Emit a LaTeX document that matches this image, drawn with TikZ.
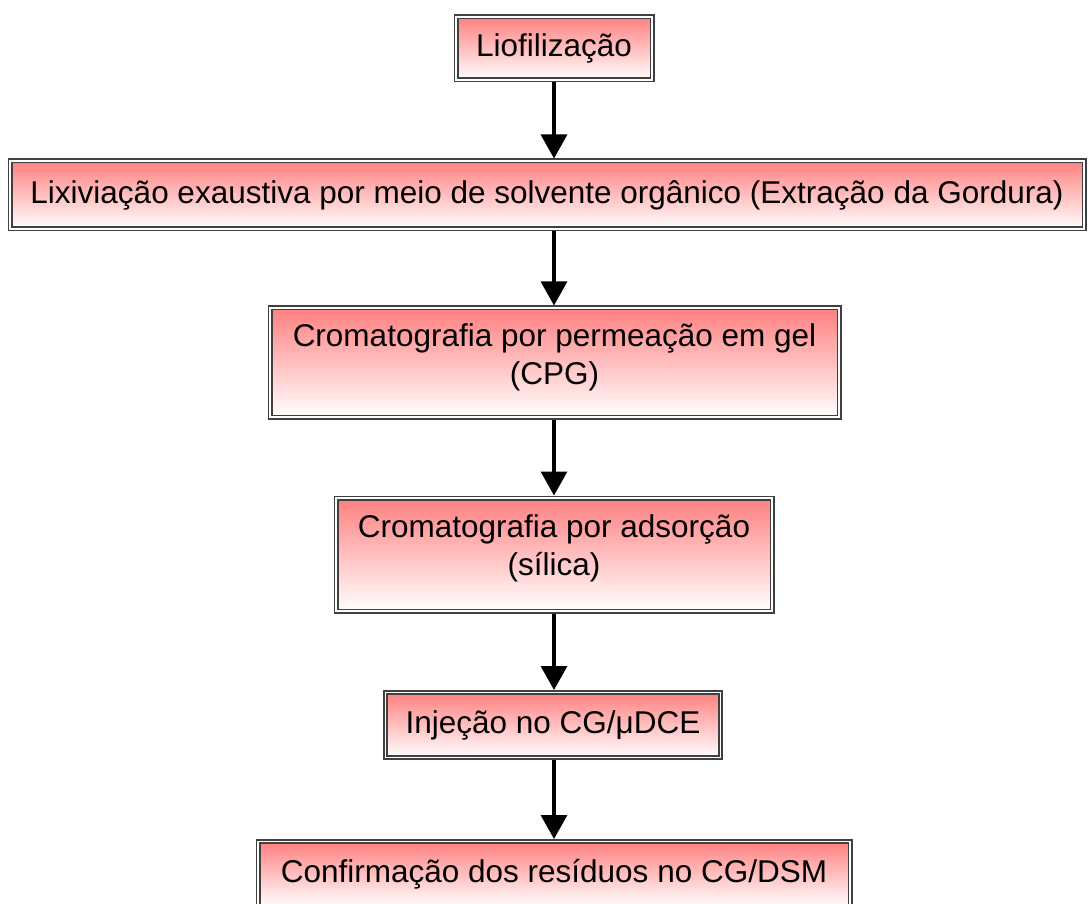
\documentclass[tikz,border=0pt]{standalone}
\usepackage{fontspec}
\setmainfont{Liberation Sans}
\usetikzlibrary{arrows.meta}
\begin{document}
\begin{tikzpicture}[x=1pt,y=-1pt,
  stepbox/.style={draw=black!75, line width=1.6pt, double=white, double distance=1.8pt,
    top color=red!50, bottom color=white, inner sep=0pt, outer sep=2.5pt,
    font=\fontsize{31.5}{38}\selectfont, align=center},
  flow/.style={line width=3.2pt, -{Triangle[width=26pt,length=24pt]}}]
\useasboundingbox (0,0) rectangle (1088,904);
\node[stepbox, minimum width=196pt, minimum height=63pt] (b1) at (554,48.5) {Liofilização};
\node[stepbox, minimum width=1074pt, minimum height=68pt] (b2) at (547,195) {Lixiviação exaustiva por meio de solvente orgânico (Extração da Gordura)};
\node[stepbox, minimum width=569pt, minimum height=109pt, text depth=16pt] (b3) at (554.5,362.5) {Cromatografia por permeação em gel\\(CPG)};
\node[stepbox, minimum width=436pt, minimum height=113pt, text depth=18pt] (b4) at (554,554.5) {Cromatografia por adsorção\\(sílica)};
\node[stepbox, minimum width=335pt, minimum height=65pt] (b5) at (553,725) {Injeção no CG/μDCE};
\node[stepbox, minimum width=592pt, minimum height=65pt] (b6) at (554,874) {Confirmação dos resíduos no CG/DSM};
\draw[flow] (b1.south -| 554,0) -- (b2.north -| 554,0);
\draw[flow] (b2.south -| 554,0) -- (b3.north -| 554,0);
\draw[flow] (b3.south -| 554,0) -- (b4.north -| 554,0);
\draw[flow] (b4.south -| 554,0) -- (b5.north -| 554,0);
\draw[flow] (b5.south -| 554,0) -- (b6.north -| 554,0);
\end{tikzpicture}
\end{document}
